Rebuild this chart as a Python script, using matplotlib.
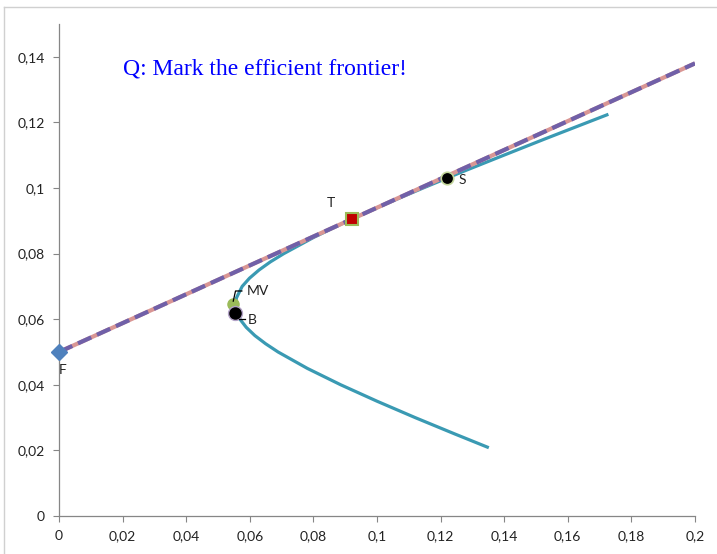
import matplotlib
matplotlib.use("Agg")
import matplotlib.pyplot as plt
from matplotlib.ticker import FuncFormatter
from matplotlib.lines import Line2D

# Frontier (std dev, return)
front_sd = [0.1347, 0.1245, 0.1120, 0.1000, 0.0886, 0.0781, 0.0689, 0.0650,
            0.0616, 0.0589, 0.0569, 0.0558, 0.0555, 0.0558, 0.0576, 0.0599,
            0.0629, 0.0665, 0.0707, 0.0802, 0.0909, 0.1024, 0.1145, 0.1270,
            0.1399, 0.1529, 0.1723]
front_mu = [0.021, 0.025, 0.030, 0.035, 0.040, 0.045, 0.050, 0.0525,
            0.055, 0.0575, 0.060, 0.0625, 0.0645, 0.0665, 0.070, 0.0725,
            0.075, 0.0775, 0.080, 0.085, 0.090, 0.095, 0.100, 0.105,
            0.110, 0.115, 0.1223]

# Capital market line
cml_sd = [0.0, 0.2]
cml_mu = [0.05, 0.138]

# Points
F = (0.0, 0.05)
T = (0.092, 0.0905)
S = (0.122, 0.103)
MV = (0.0547, 0.0646)
B = (0.0552, 0.0620)

xticks = [0, 0.02, 0.04, 0.06, 0.08, 0.1, 0.12, 0.14, 0.16, 0.18, 0.2]
yticks = [0, 0.02, 0.04, 0.06, 0.08, 0.1, 0.12, 0.14]

fig = plt.figure(figsize=(7.17, 5.54), dpi=100)
ax = fig.add_axes([59/717, 1-516/554, (695-59)/717, (516-24)/554])

ax.plot(front_sd, front_mu, color='#3a9ab3', lw=2.3, zorder=2,
        solid_joinstyle='round')
ax.plot(cml_sd, cml_mu, color='#d99694', lw=3, zorder=3, solid_capstyle='butt')
ax.plot(cml_sd, cml_mu, color='#7060a8', lw=3, ls=(0, (3.5, 1.5)), zorder=4)

ax.plot(*F, marker='D', ms=8, color='#4f81bd', zorder=5, clip_on=False)
ax.plot(*T, marker='s', ms=9, mfc='#c00000', mec='#9bbb59', mew=1.5, zorder=5)
ax.plot(*S, marker='o', ms=9, mfc='black', mec='#c3d69b', mew=1.2, zorder=5)
ax.plot(*MV, marker='o', ms=8, mfc='#9bbb59', mec='#9bbb59', zorder=5)
ax.plot(*B, marker='o', ms=10, mfc='black', mec='#b3a2c7', mew=1, zorder=6)

lab = dict(fontsize=10, family='Lato', color='#222222')
ax.text(0.0, 0.0445, 'F', ha='left', va='center', **lab)
ax.text(0.0855, 0.0955, 'T', ha='center', va='center', **lab)
ax.text(0.1255, 0.1025, 'S', ha='left', va='center', **lab)
ax.text(0.0590, 0.0686, 'MV', ha='left', va='center', **lab)
ax.text(0.0595, 0.0597, 'B', ha='left', va='center', **lab)
# leader lines
ax.add_line(Line2D([0.0548, 0.0555, 0.0575], [0.0655, 0.0686, 0.0686],
                   color='black', lw=0.9, zorder=7))
ax.add_line(Line2D([0.0565, 0.0585], [0.0600, 0.0600], color='black', lw=0.9, zorder=7))

ax.text(0.02, 0.1362, 'Q: Mark the efficient frontier!', color='#0000ff',
        fontsize=17, family='Liberation Serif', ha='left', va='center')

ax.set_xlim(0, 0.2)
ax.set_ylim(0, 0.15)
ax.set_xticks(xticks)
ax.set_yticks(yticks)
fmt = FuncFormatter(lambda v, p: ('%g' % round(v, 4)).replace('.', ','))
ax.xaxis.set_major_formatter(fmt)
ax.yaxis.set_major_formatter(fmt)
for s in ['top', 'right']:
    ax.spines[s].set_visible(False)
for s in ['left', 'bottom']:
    ax.spines[s].set_color('#868686')
    ax.spines[s].set_linewidth(0.9)
ax.tick_params(direction='out', length=4, color='#868686', labelsize=10,
               labelcolor='#222222', pad=6)
for t in ax.get_xticklabels() + ax.get_yticklabels():
    t.set_family('Lato')

# outer chart border
fig.add_artist(Line2D([3.5/717, 3.5/717], [0, 1-6.5/554], color='#d0d0d0', lw=1,
                      transform=fig.transFigure))
fig.add_artist(Line2D([3.5/717, 1], [1-6.5/554, 1-6.5/554], color='#d0d0d0', lw=1,
                      transform=fig.transFigure))

fig.savefig('out.png', dpi=100)
